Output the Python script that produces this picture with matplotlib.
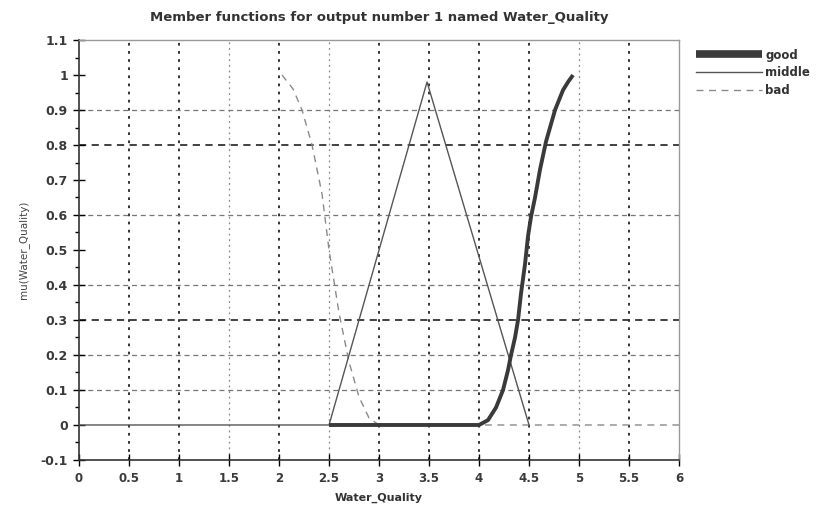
import matplotlib.pyplot as plt
from matplotlib.ticker import MultipleLocator

# membership curves
good_x = [2.5, 4.0, 4.09, 4.17, 4.24, 4.29, 4.32, 4.36, 4.39, 4.42, 4.46, 4.49, 4.52,
          4.56, 4.61, 4.67, 4.76, 4.84, 4.89, 4.94]
good_y = [0.0, 0.0, 0.014, 0.05, 0.10, 0.157, 0.2, 0.25, 0.3, 0.376, 0.46, 0.54, 0.595,
          0.65, 0.73, 0.81, 0.9, 0.957, 0.98, 1.0]

middle_x = [0.0, 2.5, 3.48, 4.5]
middle_y = [0.0, 0.0, 0.98, 0.0]

bad_x = [2.03, 2.14, 2.23, 2.33, 2.43, 2.5, 2.6, 2.7, 2.8, 2.9, 3.0, 6.0]
bad_y = [1.0, 0.96, 0.9, 0.8, 0.66, 0.5, 0.32, 0.18, 0.08, 0.02, 0.0, 0.0]

xticks = [0, 0.5, 1, 1.5, 2, 2.5, 3, 3.5, 4, 4.5, 5, 5.5, 6]
xlabels = ['0', '0.5', '1', '1.5', '2', '2.5', '3', '3.5', '4', '4.5', '5', '5.5', '6']
yticks = [-0.1, 0, 0.1, 0.2, 0.3, 0.4, 0.5, 0.6, 0.7, 0.8, 0.9, 1, 1.1]
ylabels = ['-0.1', '0', '0.1', '0.2', '0.3', '0.4', '0.5', '0.6', '0.7', '0.8', '0.9', '1', '1.1']

plt.rcParams['font.family'] = ['DejaVu Sans']

fig = plt.figure(figsize=(8.19, 5.09), dpi=100)
ax = fig.add_axes([0.0965, 0.0963, 0.7326, 0.8251])

# grid, the way it shows in the scan
dark_v = [0.5, 1, 2, 3, 3.5, 4, 4.5, 5.5]
light_v = [1.5, 2.5, 5]
for xv in dark_v:
    ax.axvline(xv, color='#222222', lw=1.3, ls=(0, (1.5, 3)), zorder=1)
for xv in light_v:
    ax.axvline(xv, color='#888888', lw=0.9, ls=(0, (1.5, 3)), zorder=1)
dark_h = [0.8, 0.3]
light_h = [0.9, 0.6, 0.4, 0.2, 0.1]
for yv in dark_h:
    ax.axhline(yv, color='#333333', lw=1.3, ls=(0, (4, 3)), zorder=1)
for yv in light_h:
    ax.axhline(yv, color='#777777', lw=0.9, ls=(0, (4, 3)), zorder=1)

ax.plot(bad_x, bad_y, color='#8a8a8a', lw=1.0, ls=(0, (5, 4)), label='bad', zorder=2)
ax.plot(middle_x, middle_y, color='#555555', lw=1.0, label='middle', zorder=3)
ax.plot(good_x, good_y, color='#3a3a3a', lw=2.8, label='good', zorder=4,
        solid_joinstyle='round', solid_capstyle='butt')

ax.set_xlim(0, 6)
ax.set_ylim(-0.1, 1.1)
ax.set_xticks(xticks)
ax.set_xticklabels(xlabels)
ax.set_yticks(yticks)
ax.set_yticklabels(ylabels)
ax.yaxis.set_minor_locator(MultipleLocator(0.05))
ax.tick_params(axis='both', which='major', direction='inout', length=8, width=1,
               labelcolor='#3a3a3a', pad=4)
ax.tick_params(axis='x', which='major', labelsize=8.5, pad=5)
ax.tick_params(axis='y', which='major', labelsize=9)
ax.tick_params(axis='y', which='minor', direction='out', length=3, width=1)
for lab in ax.get_xticklabels() + ax.get_yticklabels():
    lab.set_fontweight('bold')

for s in ['left', 'bottom']:
    ax.spines[s].set_color('#333333')
    ax.spines[s].set_linewidth(1.2)
for s in ['top', 'right']:
    ax.spines[s].set_color('#999999')
    ax.spines[s].set_linewidth(1.0)

ax.set_title('Member functions for output number 1 named Water_Quality',
             fontsize=9.5, fontweight='bold', color='#333333', pad=14)
ax.set_xlabel('Water_Quality', fontsize=8, fontweight='bold', color='#333333', labelpad=5)
ax.set_ylabel('mu(Water_Quality)', fontsize=7.5, color='#444444', labelpad=8)

h, l = ax.get_legend_handles_labels()
order = [2, 1, 0]
leg = ax.legend([h[i] for i in order], [l[i] for i in order],
                loc='upper left', bbox_to_anchor=(1.01, 1.005), frameon=False,
                handlelength=5.6, handletextpad=0.3, labelspacing=0.4,
                prop={'size': 8.5, 'weight': 'bold'})
leg.get_lines()[0].set_linewidth(5.5)
for t in leg.get_texts():
    t.set_color('#333333')

fig.savefig('out.png', dpi=100)
